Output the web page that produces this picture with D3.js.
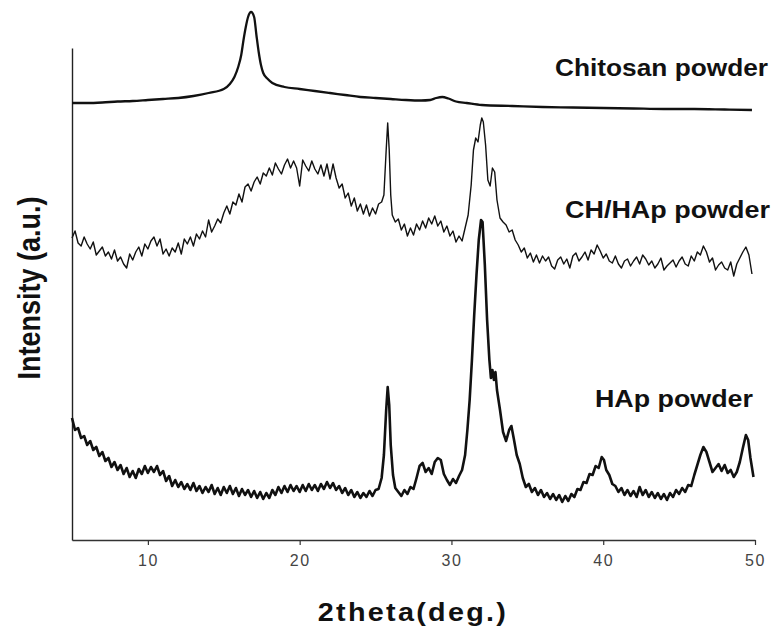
<!DOCTYPE html>
<html>
<head>
<meta charset="utf-8">
<script src="https://cdn.jsdelivr.net/npm/d3@7"></script>
<style>
  body { margin: 0; background: #fff; }
  svg { display: block; font-family: "Liberation Sans", Arial, sans-serif; }
</style>
</head>
<body>
<div id="chart"></div>
<script>
// XRD patterns, 2theta (deg.) vs intensity (a.u.), offset as in the figure
var xTicks = [10, 20, 30, 40, 50]
var seriesNames = ['Chitosan powder', 'CH/HAp powder', 'HAp powder']

var chitosan = [[5,437],[6,437],[7,437.5],[8,438.5],[9,439],[10,440],[11,441],[12,442],[13,444],[14,447],[15,451],[15.4,456],[15.7,463],[15.95,473],[16.15,485],[16.3,500],[16.45,513],[16.6,523],[16.8,528],[17,523],[17.15,505],[17.3,488],[17.45,475],[17.6,467],[17.9,461],[18.2,457],[19,453],[20,451],[21,449],[22,447],[23,445],[24,443],[25,442],[26,441],[27,440],[28,439.5],[28.6,440],[29,442],[29.4,443],[29.8,441.5],[30.3,438.5],[31,437],[32,435],[34,434],[36,433],[38,432.5],[40,432],[42,431.5],[44,431],[46,431],[48,430.5],[49.8,430]]

var chHap = [[5,302],[5.2,309],[5.4,297],[5.6,294],[5.8,303],[6,296],[6.2,291],[6.4,298],[6.6,285],[6.8,289],[7,293],[7.2,284],[7.4,288],[7.6,281],[7.8,290],[8,279],[8.2,283],[8.4,276],[8.6,272],[8.8,286],[9,280],[9.2,288],[9.4,293],[9.6,284],[9.8,296],[10,291],[10.2,299],[10.4,303],[10.6,294],[10.8,301],[11,286],[11.2,291],[11.4,284],[11.6,292],[11.8,288],[12,297],[12.2,286],[12.4,301],[12.6,296],[12.8,303],[13,294],[13.2,306],[13.4,301],[13.6,309],[13.8,303],[14,320],[14.2,308],[14.4,314],[14.6,321],[14.8,317],[15,327],[15.2,334],[15.4,326],[15.6,338],[15.8,335],[16,346],[16.2,338],[16.4,353],[16.6,356],[16.8,349],[17,358],[17.2,363],[17.4,356],[17.6,367],[17.8,364],[18,372],[18.2,365],[18.4,377],[18.6,371],[18.8,366],[19,375],[19.2,381],[19.4,372],[19.6,379],[19.8,372],[20,354],[20.2,380],[20.4,374],[20.6,369],[20.8,379],[21,371],[21.2,366],[21.4,375],[21.6,364],[21.8,376],[22,361],[22.2,376],[22.4,362],[22.6,352],[22.8,356],[23,342],[23.2,347],[23.4,334],[23.6,342],[23.8,329],[24,336],[24.2,326],[24.4,335],[24.6,324],[24.8,332],[25,326],[25.2,336],[25.4,338],[25.55,345],[25.7,390],[25.8,417],[25.9,390],[26,345],[26.1,325],[26.3,318],[26.5,321],[26.7,310],[26.9,316],[27.1,304],[27.3,312],[27.5,305],[27.7,316],[27.9,310],[28.1,319],[28.3,312],[28.5,322],[28.7,316],[28.9,324],[29.1,314],[29.3,319],[29.5,308],[29.7,314],[29.9,304],[30.1,309],[30.3,298],[30.5,304],[30.7,299],[30.9,312],[31.1,325],[31.3,355],[31.45,390],[31.6,402],[31.75,398],[31.9,415],[32,422],[32.1,418],[32.25,395],[32.4,360],[32.55,354],[32.7,372],[32.85,368],[33,340],[33.2,322],[33.4,318],[33.6,315],[33.8,308],[34,310],[34.2,300],[34.4,295],[34.6,288],[34.8,292],[35,282],[35.2,287],[35.4,278],[35.6,285],[35.8,277],[36,284],[36.2,279],[36.4,283],[36.6,274],[36.8,271],[37,280],[37.2,283],[37.4,276],[37.6,281],[37.8,272],[38,284],[38.2,287],[38.4,279],[38.6,283],[38.8,288],[39,280],[39.2,290],[39.4,286],[39.6,295],[39.8,289],[40,282],[40.2,286],[40.4,279],[40.6,277],[40.8,284],[41,276],[41.2,272],[41.4,279],[41.6,281],[41.8,274],[42,279],[42.2,283],[42.4,276],[42.6,285],[42.8,281],[43,275],[43.2,279],[43.4,272],[43.6,276],[43.8,282],[44,270],[44.2,274],[44.4,277],[44.6,280],[44.8,273],[45,279],[45.2,283],[45.4,276],[45.6,274],[45.8,284],[46,279],[46.2,288],[46.4,285],[46.6,294],[46.8,288],[47,278],[47.2,282],[47.4,270],[47.6,275],[47.8,278],[48,272],[48.2,270],[48.4,278],[48.6,264],[48.8,276],[49,282],[49.2,288],[49.4,293],[49.6,285],[49.8,266]]

var hap = [[5,122],[5.2,110],[5.4,112],[5.6,102],[5.8,104],[6,95],[6.2,99],[6.4,90],[6.6,93],[6.8,84],[7,88],[7.2,79],[7.4,82],[7.6,73],[7.8,78],[8,70],[8.2,75],[8.4,66],[8.6,72],[8.8,63],[9,69],[9.2,62],[9.4,71],[9.6,66],[9.8,74],[10,67],[10.2,73],[10.4,68],[10.6,74],[10.8,65],[11,69],[11.2,59],[11.4,64],[11.6,54],[11.8,60],[12,53],[12.2,58],[12.4,51],[12.6,56],[12.8,50],[13,57],[13.2,49],[13.4,54],[13.6,47],[13.8,53],[14,48],[14.2,55],[14.4,46],[14.6,52],[14.8,45],[15,53],[15.2,47],[15.4,54],[15.6,46],[15.8,52],[16,44],[16.2,51],[16.4,45],[16.6,50],[16.8,43],[17,49],[17.2,42],[17.4,48],[17.6,41],[17.8,47],[18,42],[18.2,50],[18.4,45],[18.6,53],[18.8,47],[19,54],[19.2,48],[19.4,55],[19.6,49],[19.8,54],[20,48],[20.2,55],[20.4,49],[20.6,56],[20.8,50],[21,55],[21.2,49],[21.4,56],[21.6,51],[21.8,58],[22,52],[22.2,57],[22.4,50],[22.6,54],[22.8,47],[23,52],[23.2,45],[23.4,50],[23.6,43],[23.8,48],[24,42],[24.2,47],[24.4,43],[24.6,49],[24.8,44],[25,50],[25.2,51],[25.4,62],[25.55,85],[25.7,130],[25.8,153],[25.9,135],[26,95],[26.15,65],[26.3,52],[26.5,48],[26.7,44],[26.9,50],[27.1,46],[27.3,53],[27.5,51],[27.7,62],[27.9,74],[28.1,77],[28.3,68],[28.5,72],[28.7,66],[28.9,78],[29.1,82],[29.3,80],[29.5,66],[29.7,60],[29.9,55],[30.1,61],[30.3,57],[30.5,64],[30.7,70],[30.9,85],[31.05,110],[31.2,140],[31.35,180],[31.5,225],[31.65,265],[31.8,300],[31.95,320],[32.05,318],[32.2,275],[32.35,220],[32.5,180],[32.6,162],[32.7,170],[32.8,160],[32.9,168],[33,150],[33.2,130],[33.4,108],[33.6,99],[33.8,110],[33.95,114],[34.1,102],[34.3,85],[34.5,76],[34.7,62],[34.9,53],[35.1,56],[35.3,48],[35.5,52],[35.7,45],[35.9,50],[36.1,43],[36.3,47],[36.5,41],[36.7,46],[36.9,40],[37.1,45],[37.3,38],[37.5,44],[37.7,39],[37.9,46],[38.1,43],[38.3,51],[38.5,50],[38.7,58],[38.9,57],[39.1,66],[39.3,65],[39.5,74],[39.7,72],[39.9,83],[40.05,80],[40.2,70],[40.4,65],[40.6,56],[40.8,54],[41,48],[41.2,52],[41.4,45],[41.6,50],[41.8,44],[42,49],[42.2,43],[42.4,53],[42.6,45],[42.8,50],[43,43],[43.2,48],[43.4,42],[43.6,47],[43.8,41],[44,46],[44.2,40],[44.4,47],[44.6,43],[44.8,50],[45,46],[45.2,52],[45.4,48],[45.6,55],[45.8,54],[46,65],[46.2,75],[46.4,85],[46.6,93],[46.8,88],[47,78],[47.2,68],[47.4,72],[47.6,76],[47.8,69],[48,75],[48.2,67],[48.4,70],[48.6,63],[48.8,68],[49,78],[49.2,92],[49.4,105],[49.55,100],[49.7,82],[49.9,63]]

var width = 777, height = 630

var svg = d3.select('#chart')
  .append('svg')
  .attr('width', width)
  .attr('height', height)

var x = d3.scaleLinear().domain([5, 50]).range([72, 755])
var y = d3.scaleLinear().domain([0, 492]).range([540, 48])

// axes
var xAxis = svg.append('g')
  .attr('transform', 'translate(0,540)')
  .call(d3.axisBottom(x).tickValues(xTicks).tickSize(5).tickSizeOuter(0).tickPadding(10))
xAxis.select('.domain').attr('stroke', '#333').attr('stroke-width', 1.4)
xAxis.selectAll('.tick line').attr('stroke', '#333').attr('stroke-width', 1.2)
xAxis.selectAll('.tick text')
  .attr('font-size', 16)
  .attr('fill', '#444')
  .style('letter-spacing', '1.5px')
  .style('font-family', '"Liberation Sans", Arial, sans-serif')

var yAxis = svg.append('g')
  .attr('transform', 'translate(72,0)')
  .call(d3.axisLeft(y).tickValues([]).tickSizeOuter(0))
yAxis.select('.domain').attr('stroke', '#222').attr('stroke-width', 1.4)

// patterns
var line = d3.line().x(d => x(d[0])).y(d => y(d[1]))
var smooth = d3.line().x(d => x(d[0])).y(d => y(d[1])).curve(d3.curveMonotoneX)

var series = [
  {name: seriesNames[0], data: chitosan, gen: smooth, w: 2.3},
  {name: seriesNames[1], data: chHap, gen: line, w: 1.4},
  {name: seriesNames[2], data: hap, gen: line, w: 2.6}
]

svg.append('g').selectAll('path')
  .data(series)
  .enter().append('path')
    .attr('d', d => d.gen(d.data))
    .attr('fill', 'none')
    .attr('stroke', '#111')
    .attr('stroke-width', d => d.w)
    .attr('stroke-linejoin', 'round')

// series labels (figure is stretched horizontally, so glyphs are widened)
var labelPos = [
  {x: 555, y: 76, len: 213},
  {x: 565, y: 218, len: 205},
  {x: 595, y: 407, len: 158}
]
svg.append('g').selectAll('text')
  .data(seriesNames)
  .enter().append('text')
    .attr('x', (d, i) => labelPos[i].x)
    .attr('y', (d, i) => labelPos[i].y)
    .attr('textLength', (d, i) => labelPos[i].len)
    .attr('lengthAdjust', 'spacingAndGlyphs')
    .attr('font-size', 23)
    .attr('font-weight', 'bold')
    .attr('fill', '#111')
    .text(d => d)

// axis titles
svg.append('text')
  .attr('transform', 'translate(413,621) scale(1.15,1)')
  .attr('text-anchor', 'middle')
  .attr('font-size', 25)
  .attr('font-weight', 'bold')
  .attr('fill', '#111')
  .style('letter-spacing', '2px')
  .text('2theta(deg.)')

svg.append('text')
  .attr('transform', 'translate(40,288) rotate(-90) scale(1,1.15)')
  .attr('text-anchor', 'middle')
  .attr('font-size', 27)
  .attr('font-weight', 'bold')
  .attr('fill', '#111')
  .text('Intensity (a.u.)')
</script>
</body>
</html>
